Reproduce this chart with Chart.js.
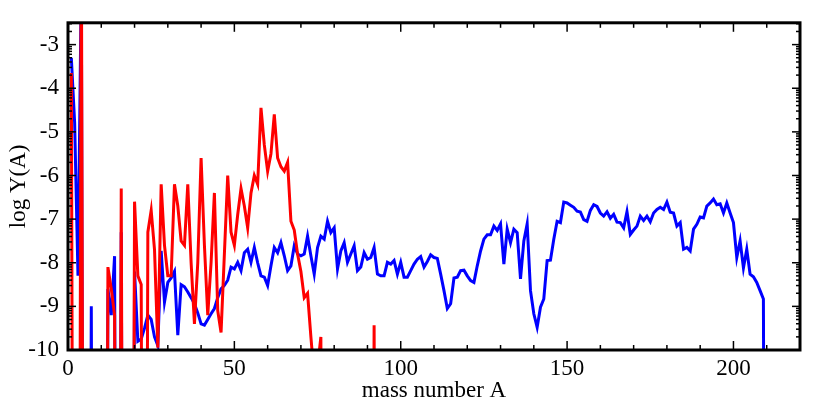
<!DOCTYPE html>
<html>
<head>
<meta charset="utf-8">
<script src="https://cdn.jsdelivr.net/npm/chart.js@4"></script>
<style>
body { margin: 0; background: #fff; }
</style>
</head>
<body>
<canvas id="grafico" width="830" height="415"></canvas>
<script>
// log Y(A) por número de massa, A começa em 1
const primeiroA = 1
const yAzul = [
    -3.3, -4.8, -8.3, -1.5, -30, -30, -9.0, -30, -30, -30,
    -30, -8.6, -9.2, -7.85, -30, -7.3, -30, -30, -30, -8.2,
    -9.8, -9.75, -9.5, -9.2, -9.3, -9.7, -9.9, -7.73, -8.9, -8.45,
    -8.35, -8.2, -9.66, -8.5, -8.55, -8.67, -8.8, -8.94, -9.15, -9.4,
    -9.43, -9.3, -9.17, -9.05, -8.8, -8.6, -8.52, -8.4, -8.1, -8.14,
    -7.99, -8.18, -7.77, -7.69, -7.99, -7.65, -8.0, -8.3, -8.33, -8.52,
    -8.07, -7.65, -7.77, -7.54, -7.84, -8.18, -8.07, -7.61, -7.8, -7.84,
    -7.8, -7.39, -7.84, -8.26, -7.65, -7.39, -7.46, -7.05, -7.31, -7.2,
    -8.14, -7.73, -7.54, -7.99, -7.8, -7.61, -8.18, -8.1, -7.77, -7.92,
    -7.88, -7.65, -8.26, -8.3, -8.3, -7.99, -8.03, -7.95, -8.26, -7.99,
    -8.33, -8.33, -8.18, -8.03, -7.92, -7.86, -8.1, -7.97, -7.82, -7.88,
    -7.9, -8.26, -8.64, -9.05, -8.94, -8.35, -8.33, -8.18, -8.17, -8.3,
    -8.41, -8.45, -8.07, -7.73, -7.46, -7.36, -7.36, -7.16, -7.26, -7.11,
    -8.03, -7.23, -7.54, -7.23, -7.31, -8.37, -7.5, -7.11, -8.64, -9.17,
    -9.48, -9.02, -8.83, -7.95, -7.94, -7.46, -7.05, -7.08, -6.61, -6.63,
    -6.68, -6.73, -6.82, -6.84, -7.01, -7.05, -6.8, -6.67, -6.71, -6.86,
    -6.93, -6.83, -6.98, -6.89, -7.07, -7.08, -7.2, -6.83, -7.35, -7.25,
    -7.16, -6.93, -7.03, -6.93, -7.06, -6.86, -6.78, -6.73, -6.78, -6.61,
    -6.84, -6.86, -7.16, -7.08, -7.69, -7.65, -7.73, -7.23, -7.12, -6.95,
    -6.97, -6.7, -6.63, -6.54, -6.67, -6.65, -6.86, -6.63, -6.86, -7.08,
    -7.88, -7.5, -8.12, -7.69, -8.26, -8.32, -8.45, -8.64, -8.83, -30
]
const yVermelho = [
    -3.65, -30, -30, 0, -30, -30, -30, -30, -30, -30,
    -30, -8.1, -8.6, -9.2, -30, -6.3, -30, -30, -30, -6.6,
    -8.3, -8.5, -30, -7.3, -6.8, -7.7, -9.95, -6.2, -7.6, -8.3,
    -8.3, -6.2, -6.7, -7.5, -7.6, -6.2, -8.0, -9.4, -8.0, -5.6,
    -7.6, -9.2, -8.0, -6.4, -9.1, -9.6, -7.8, -6.0, -7.3, -7.6,
    -6.9, -6.3, -6.7, -7.2, -6.4, -6.0, -6.2, -4.45, -5.3, -5.9,
    -5.5, -4.6, -5.6, -5.8, -5.9, -5.7, -7.05, -7.25, -7.8, -8.2,
    -8.8, -8.7, -9.7, -10.6, -10.4, -9.7, -30, -30, -30, -30,
    -30, -30, -30, -30, -30, -30, -30, -30, -30, -30,
    -30, -9.43, -30
]
const ticksX = [0, 50, 100, 150, 200]
const ticksY = [-10, -9, -8, -7, -6, -5, -4, -3]

const fonte = { family: "'Liberation Serif', 'DejaVu Serif', serif", size: 23 }

function pontos(valores) {
    return valores.map((v, i) => ({ x: primeiroA + i, y: v }))
}

// moldura com marcas para dentro (menores em log no eixo y)
const moldura = {
    id: 'moldura',
    afterDraw(chart) {
        const { ctx, chartArea: a, scales: { x, y } } = chart
        ctx.save()
        ctx.strokeStyle = '#000'
        ctx.lineWidth = 1.5
        const traco = (x1, y1, x2, y2) => {
            ctx.beginPath(); ctx.moveTo(x1, y1); ctx.lineTo(x2, y2); ctx.stroke()
        }
        for (let v = 0; v <= 220; v += 10) {
            const px = x.getPixelForValue(v)
            const t = v % 50 === 0 ? 9 : 5
            traco(px, a.bottom, px, a.bottom - t)
            traco(px, a.top, px, a.top + t)
        }
        for (let d = -10; d < -2; d++) {
            for (let k = 1; k <= 9; k++) {
                const v = d + Math.log10(k)
                if (v > y.max) continue
                const py = y.getPixelForValue(v)
                const t = k === 1 ? 8 : 4
                traco(a.left, py, a.left + t, py)
                traco(a.right, py, a.right - t, py)
            }
        }
        ctx.lineWidth = 3
        ctx.strokeRect(a.left, a.top, a.right - a.left, a.bottom - a.top)
        ctx.restore()
    }
}

new Chart(document.getElementById('grafico'), {
    type: 'line',
    data: {
        datasets: [
            { data: pontos(yVermelho), borderColor: '#ff0000', borderWidth: 3, clip: 0 },
            { data: pontos(yAzul), borderColor: '#0000ff', borderWidth: 3, clip: 0 }
        ]
    },
    options: {
        responsive: false,
        animation: false,
        layout: { padding: { top: 19, right: 30, left: 0, bottom: 0 } },
        elements: { point: { radius: 0 }, line: { tension: 0 } },
        plugins: { legend: { display: false }, tooltip: { enabled: false } },
        scales: {
            x: {
                type: 'linear',
                min: 0,
                max: 220,
                afterFit: s => { s.height = 65 },
                afterBuildTicks: s => { s.ticks = ticksX.map(v => ({ value: v })) },
                grid: { display: false, drawTicks: false },
                border: { display: false },
                ticks: { color: '#000', font: fonte, padding: 5, maxRotation: 0 },
                title: { display: true, text: 'mass number A', color: '#000', font: fonte, padding: { top: 0, bottom: 10 } }
            },
            y: {
                min: -10,
                max: -2.5,
                afterFit: s => { s.width = 68 },
                afterBuildTicks: s => { s.ticks = ticksY.map(v => ({ value: v })) },
                grid: { display: false, drawTicks: false },
                border: { display: false },
                ticks: { color: '#000', font: fonte, padding: 9 },
                title: { display: true, text: 'log Y(A)', color: '#000', font: fonte, padding: { top: 5, bottom: 0 } }
            }
        }
    },
    plugins: [moldura]
})
</script>
</body>
</html>
